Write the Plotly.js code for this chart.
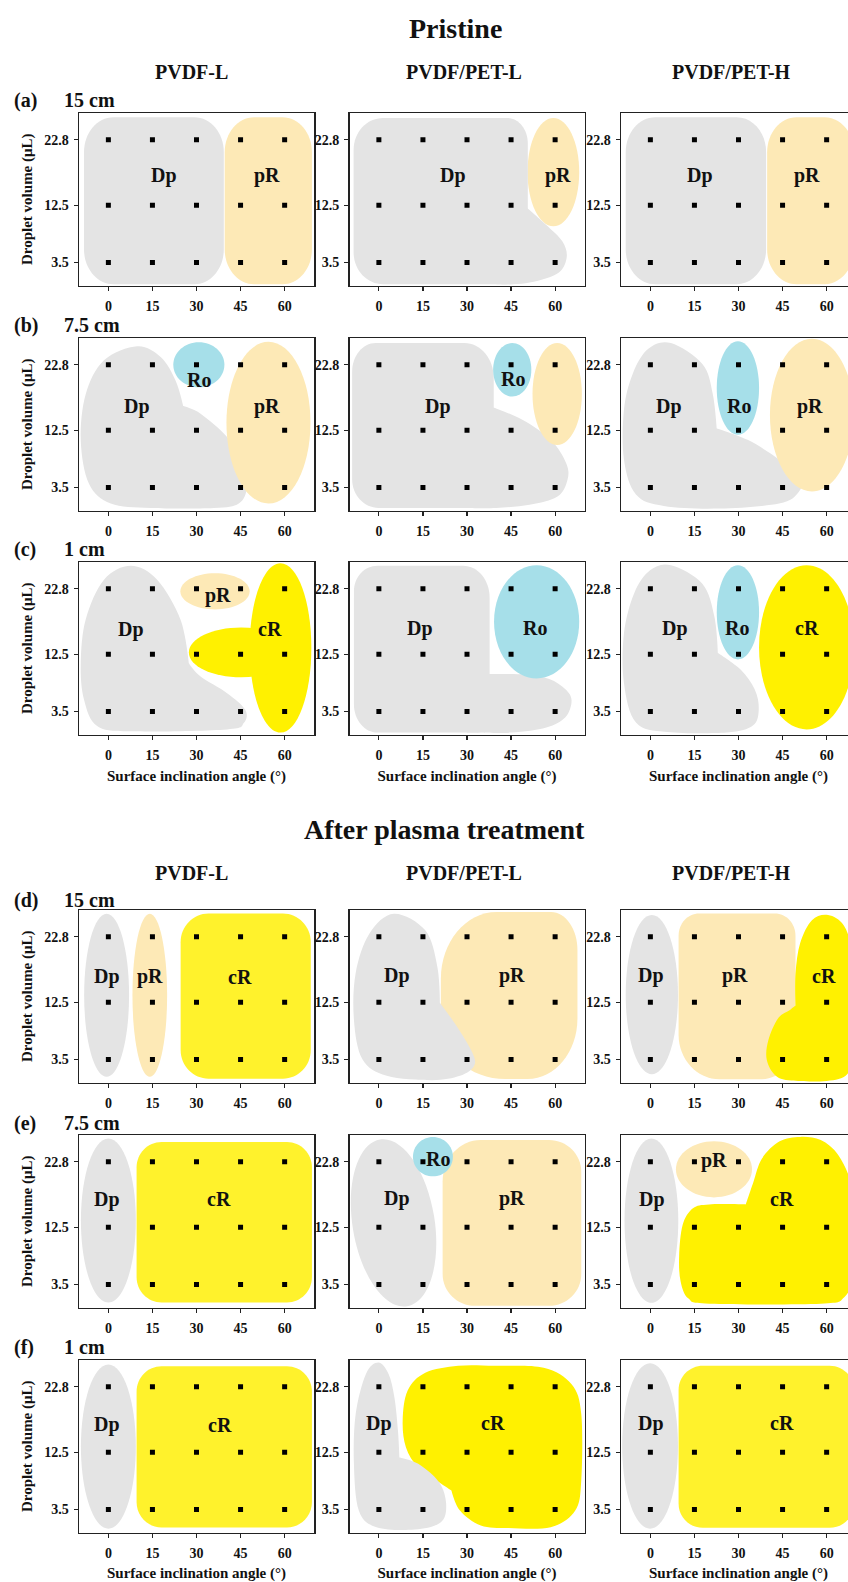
<!DOCTYPE html>
<html><head><meta charset="utf-8">
<script src="https://cdn.plot.ly/plotly-3.0.1.min.js"></script>
<style>html,body{margin:0;padding:0;overflow:hidden;background:#fff;}#chart{width:860px;height:1582px;}</style>
</head><body><div id="chart"></div>
<script>
// ---------- data ----------
const angles = [0, 15, 30, 45, 60];
const volumes = [3.5, 12.5, 22.8];
const angleLabels = ['0', '15', '30', '45', '60'];
const volumeLabels = ['3.5', '12.5', '22.8'];
const materials = ['PVDF-L', 'PVDF/PET-L', 'PVDF/PET-H'];
const heights = ['15 cm', '7.5 cm', '1 cm', '15 cm', '7.5 cm', '1 cm'];
const panelTags = ['(a)', '(b)', '(c)', '(d)', '(e)', '(f)'];
const conditions = ['Pristine', 'After plasma treatment'];
const xTitle = 'Surface inclination angle (°)';
const yTitle = 'Droplet volume (μL)';

const GRAY = '#e4e4e4', TAN = '#fde9b6', CYAN = '#a6dfe9', YEL = '#fff100', YEL2 = '#fff22c';

// regime regions per panel (angle °, volume μL); n = regime, g = outline, t = label spot
const regionsA = [
  [ {n:'Dp', c:GRAY, g:[['rr',-8.3,39.3,0.1,26.35,10,5.5]], t:[19.1,17.2]},
    {n:'pR', c:TAN,  g:[['rr',39.6,69.3,0.1,26.35,10,5.5]], t:[54,17.2]} ],
  [ {n:'pR', c:TAN,  g:[['el',59.4,17.7,8.8,8.5]], t:[60.9,17.2]},
    {n:'Dp', c:GRAY, g:[['rq',-8.6,50.7,0.1,26.2,[10,5],[6,3],[7,4],[10,5]],
                        ['bl',[[40,12,1],[50.7,12.0,1],[57,9.4],[62.5,6.8],[63.9,4.2],[60.5,1.7],[50,0.25],[40,0.1,1]]]], t:[25.1,17.2]} ],
  [ {n:'Dp', c:GRAY, g:[['rr',-8.4,39.4,0.1,26.35,10,5.5]], t:[16.8,17.2]},
    {n:'pR', c:TAN,  g:[['rr',39.75,69.3,0.1,26.35,10,5.5]], t:[53.3,17.2]} ]
];
const regionsB = [
  [ {n:'Dp', c:GRAY, g:[['bl',[[9.85,25.7],[17.8,24.0],[22.9,20.3],[25.5,16.3,1],[31.4,15.1],[40.4,11.45],[46.1,7.3],[47.2,3.6],[44.4,1.0],[35.9,0.3],[14.4,0.3],[0.8,1.0],[-6.6,4.1],[-9.4,10.9],[-7.7,18.2],[-1.5,23.5]]]], t:[9.6,16.3]},
    {n:'Ro', c:CYAN, g:[['el',30.8,22.8,8.7,3.55]], t:[30.8,20.45]},
    {n:'pR', c:TAN,  g:[['el',54.5,13.7,14.3,12.7]], t:[54,16.3]} ],
  [ {n:'Dp', c:GRAY, g:[['rq',-9.1,39.1,0.3,26.2,[9,4.5],[5,2.5],[10,5.5],[8,4.5]],
                        ['bl',[[30,16.1,1],[39.1,16.1,1],[49,14.1],[58.5,11.0],[63.8,7.3],[64.2,4.7],[60.8,2.1],[51.3,0.8],[40,0.3],[30,0.3,1]]]], t:[20.2,16.3]},
    {n:'Ro', c:CYAN, g:[['el',45.4,22.0,6.5,4.2]], t:[45.8,20.6]},
    {n:'',   c:TAN,  g:[['el',60.7,18.2,8.4,8.0]], t:null} ],
  [ {n:'Dp', c:GRAY, g:[['bl',[[7.0,26.2],[17.7,22.9],[21.2,18.3],[22.6,12.8,1],[33.1,11.0],[43.8,7.9],[50.9,4.75],[50.3,2.7],[43.8,1.0],[23.6,0.2],[4.6,0.6],[-4.9,2.4],[-9.0,7.9],[-9.0,15.7],[-6.0,21.4],[-0.7,25.3]]]], t:[6.4,16.3]},
    {n:'Ro', c:CYAN, g:[['el',29.8,19.15,7.2,7.35]], t:[30.1,16.3]},
    {n:'pR', c:TAN,  g:[['el',55,14.9,14.3,12]], t:[54.2,16.3]} ]
];
const regionsC = [
  [ {n:'Dp', c:GRAY, g:[['bl',[[7.6,26.4],[16.6,24.2],[24.6,17.9],[27.4,11.1,1],[31.4,9.0],[40.4,6.4],[46.6,3.8],[46.1,1.7],[40.4,0.7],[8.7,0.4],[-3.7,1.2],[-8.3,5.4],[-9.4,11.1],[-7.7,18.0],[-1.5,24.2]]]], t:[7.6,16.4]},
    {n:'pR', c:TAN,  g:[['el',36.3,22.4,11.8,2.85]], t:[37.4,21.8]},
    {n:'cR', c:YEL,  g:[['el',58.6,13.5,10.5,13.3],['el',45.2,12.8,17.8,3.9]], t:[55.1,16.4]} ],
  [ {n:'Dp', c:GRAY, g:[['rq',-8.5,37.7,0.2,26.4,[8,4.5],[4,2],[9,5],[8,4]],
                        ['bl',[[30,9.4,1],[37.7,9.4,1],[50,9.3],[58,8.6],[63.5,7.0],[65.6,5.2],[63.5,2.6],[57,1.0],[45,0.2],[30,0.2,1]]]], t:[14,16.6]},
    {n:'Ro', c:CYAN, g:[['el',53.7,17.6,14.5,8.9]], t:[53.1,16.6]} ],
  [ {n:'Dp', c:GRAY, g:[['bl',[[7.0,26.5],[17.7,23.6],[21.8,18.4],[23,12.7,1],[30.7,10.1],[35.5,7.0],[36.9,3.9],[34.9,1.3],[26,0.2],[5.8,0.3],[-4.9,1.8],[-9.0,8.0],[-9.0,15.8],[-5.5,22.1],[-0.1,25.7]]]], t:[8.5,16.6]},
    {n:'Ro', c:CYAN, g:[['el',29.8,19.1,7.2,7.4]], t:[29.5,16.6]},
    {n:'cR', c:YEL,  g:[['el',53.2,13.6,16.2,12.9]], t:[53.2,16.6]} ]
];
const regionsD = [
  [ {n:'Dp', c:GRAY, g:[['el',-0.6,13.6,7.65,12.8]], t:[-0.6,16.5]},
    {n:'pR', c:TAN,  g:[['el',14.1,13.6,5.9,12.8]], t:[14.2,16.5]},
    {n:'cR', c:YEL2, g:[['rr',24.6,68.9,0.5,26.45,9.5,4.5]], t:[44.9,16.5]} ],
  [ {n:'pR', c:TAN,  g:[['rq',21.1,67.6,0.45,26.7,[22,9],[17,9.5],[9,6],[19,10.5]]], t:[45.4,16.7]},
    {n:'Dp', c:GRAY, g:[['bl',[[5.1,26.4],[15.8,23.8],[19.9,18.1],[20.8,12.4,1],[26.4,8.8],[31.8,4.6],[32.4,2.5],[27.6,0.95],[18.1,0.27],[2.7,0.95],[-5.6,3.55],[-8.5,9.8],[-7.9,17.1],[-3.2,23.3]]]], t:[6.0,16.7]} ],
  [ {n:'Dp', c:GRAY, g:[['el',0.5,13.7,8.9,12.5]], t:[0.2,16.7]},
    {n:'pR', c:TAN,  g:[['rq',9.6,49.4,0.4,26.45,[14,7],[12,6],[7,3.5],[7,3.5]]], t:[28.9,16.7]},
    {n:'cR', c:YEL,  g:[['bl',[[60.5,26.2],[65.8,24.6],[68.7,20.5],[69.6,14],[69.6,5],[67,1.2],[60,0.15],[48,0.2],[42.6,1.0],[39.6,3.5],[40.2,6.6],[43.5,10.0],[47.5,11.3],[49.4,12.0,1],[49.4,17],[51,21.8],[55,25.4]]]], t:[59.2,16.7]} ]
];
const regionsE = [
  [ {n:'Dp', c:GRAY, g:[['el',0,13.57,9.35,12.88]], t:[-0.6,16.9]},
    {n:'cR', c:YEL2, g:[['rr',9.6,69.3,0.69,25.9,8.5,4]], t:[37.6,16.9]} ],
  [ {n:'Dp', c:GRAY, g:[['te',5,13.2,-4.6,13.1,13.8,1.03]], t:[6.0,17.0]},
    {n:'pR', c:TAN,  g:[['rq',21.7,68.9,0.17,26.2,[11,5],[11,5],[11,5],[13,6.5]]], t:[45.4,17.0]},
    {n:'Ro', c:CYAN, g:[['el',18.4,23.6,6.8,3.1]], t:[20.2,23.2]} ],
  [ {n:'Dp', c:GRAY, g:[['el',0.35,13.54,9.15,12.9]], t:[0.45,16.9]},
    {n:'pR', c:TAN,  g:[['el',21.65,21.6,12.95,4.4]], t:[21.7,23.0]},
    {n:'cR', c:YEL,  g:[['bl',[[9.8,8],[11,12.9],[14.5,15.5],[20,16.1],[32.5,16.1,1],[35,19.5],[38,23.3],[44,26.0],[51,26.7],[58,26.2],[64,23.8],[68.5,19],[69.5,12],[69,5],[66,1.5],[58,0.5],[20,0.5],[13,1.3],[10.3,4]]]], t:[44.8,16.9]} ]
];
const regionsF = [
  [ {n:'Dp', c:GRAY, g:[['el',0,13.4,9.35,12.9]], t:[-0.6,16.85]},
    {n:'cR', c:YEL2, g:[['rr',9.6,69.3,0.68,26.0,8.5,4]], t:[37.9,16.85]} ],
  [ {n:'cR', c:YEL,  g:[['bl',[[15.8,25.0],[27,26.1],[39.5,26.1],[56.1,25.8],[65.6,23.2],[68.9,18.5],[68.9,8.1],[66.8,3.3],[58.5,0.74],[44.2,0.6],[34.7,1.0],[27.6,3.35],[24.7,6.5,1],[20.5,7.8],[13.4,10.1],[9.2,13.3],[8.1,17.5],[9.8,22.2]]]], t:[38.9,17.05]},
    {n:'Dp', c:GRAY, g:[['bl',[[-0.2,26.6],[3.3,24.8],[5.3,21.1],[6.5,15.9],[7.0,11.7,1],[13.4,10.7],[20.5,7.8],[22.9,4.4],[21.1,1.5],[12.2,0.36],[-0.8,0.73],[-6.8,3.3],[-8.5,10.7],[-7.9,18.5],[-4.4,24.8]]]], t:[0.1,17.05]} ],
  [ {n:'Dp', c:GRAY, g:[['el',-0.1,13.5,9.5,13]], t:[0.2,17.05]},
    {n:'cR', c:YEL2, g:[['rr',9.6,69.3,0.63,26.1,8.3,3.8]], t:[44.7,17.05]} ]
];

// ---------- geometry helpers (data units) ----------
const K = 0.5523;
const f = v => +v.toFixed(4);
function ellipsePath(cx, cy, ax, ay, bx, by) {
  const p = (u, v) => f(cx + u*ax + v*bx) + ',' + f(cy + u*ay + v*by);
  return 'M' + p(1,0) + ' C' + p(1,K) + ' ' + p(K,1) + ' ' + p(0,1) +
         ' C' + p(-K,1) + ' ' + p(-1,K) + ' ' + p(-1,0) +
         ' C' + p(-1,-K) + ' ' + p(-K,-1) + ' ' + p(0,-1) +
         ' C' + p(K,-1) + ' ' + p(1,-K) + ' ' + p(1,0) + ' Z';
}
// corners: bl, br, tr, tl as [rx, ry]
function rrect4Path(x0, x1, y0, y1, bl, br, tr, tl) {
  const P = (x, y) => f(x) + ',' + f(y);
  return 'M' + P(x0+bl[0], y0) + ' L' + P(x1-br[0], y0) +
    ' C' + P(x1-br[0]+K*br[0], y0) + ' ' + P(x1, y0+br[1]-K*br[1]) + ' ' + P(x1, y0+br[1]) +
    ' L' + P(x1, y1-tr[1]) +
    ' C' + P(x1, y1-tr[1]+K*tr[1]) + ' ' + P(x1-tr[0]+K*tr[0], y1) + ' ' + P(x1-tr[0], y1) +
    ' L' + P(x0+tl[0], y1) +
    ' C' + P(x0+tl[0]-K*tl[0], y1) + ' ' + P(x0, y1-tl[1]+K*tl[1]) + ' ' + P(x0, y1-tl[1]) +
    ' L' + P(x0, y0+bl[1]) +
    ' C' + P(x0, y0+bl[1]-K*bl[1]) + ' ' + P(x0+bl[0]-K*bl[0], y0) + ' ' + P(x0+bl[0], y0) + ' Z';
}
function blobPath(pts) {
  const n = pts.length;
  let d = 'M' + f(pts[0][0]) + ',' + f(pts[0][1]);
  for (let i = 0; i < n; i++) {
    const p0 = pts[(i-1+n)%n], p1 = pts[i], p2 = pts[(i+1)%n], p3 = pts[(i+2)%n];
    const t1 = p1[2] ? 0 : 1, t2 = p2[2] ? 0 : 1;
    const c1 = [f(p1[0] + (p2[0]-p0[0])/6*t1), f(p1[1] + (p2[1]-p0[1])/6*t1)];
    const c2 = [f(p2[0] - (p3[0]-p1[0])/6*t2), f(p2[1] - (p3[1]-p1[1])/6*t2)];
    d += ' C' + c1.join(',') + ' ' + c2.join(',') + ' ' + f(p2[0]) + ',' + f(p2[1]);
  }
  return d + ' Z';
}
function geomPath(g) {
  if (g[0] === 'rr') { const r = [g[5], g[6]]; return rrect4Path(g[1], g[2], g[3], g[4], r, r, r, r); }
  if (g[0] === 'rq') return rrect4Path(g[1], g[2], g[3], g[4], g[5], g[6], g[7], g[8]);
  if (g[0] === 'el') return ellipsePath(g[1], g[2], g[3], 0, 0, g[4]);
  if (g[0] === 'te') return ellipsePath(g[1], g[2], g[3], g[4], g[5], g[6]);
  return blobPath(g[1]);
}

// ---------- layout ----------
const W = 860, H = 1582;
const FONT = 'Liberation Serif, Times New Roman, serif';
const colLeft = [79, 349.5, 621], plotW = 235;
const rowTop = [113, 338, 562, 910, 1135, 1360], plotH = 172.5;
const tagY = [100, 325, 549, 900, 1123, 1347];
const headerY = [72, 873], conditionY = [28, 829];
const headerX = [191, 464, 731], conditionX = [456, 444];

const allRows = [regionsA, regionsB, regionsC, regionsD, regionsE, regionsF];
const traces = [], shapes = [], annotations = [];
const layout = {
  width: W, height: H, margin: {l:0, r:0, t:0, b:0},
  paper_bgcolor: '#fff', plot_bgcolor: '#fff', showlegend: false,
  font: {family: FONT, color: '#111'}
};
const tickFont = {family: FONT, size: 14, weight: 'bold', color: '#111'};
const titleFont = {family: FONT, size: 15, weight: 'bold', color: '#111'};

const gx = [], gy = [];
volumes.forEach(v => angles.forEach(a => { gx.push(a); gy.push(v); }));

allRows.forEach((row, r) => row.forEach((regs, c) => {
  const i = r*3 + c + 1, s = i === 1 ? '' : String(i);
  const xr = 'x' + s, yr = 'y' + s;
  layout['xaxis' + s] = {
    domain: [colLeft[c]/W, (colLeft[c]+plotW)/W], range: [-10, 70], anchor: yr,
    tickmode: 'array', tickvals: angles, ticktext: angleLabels,
    ticks: 'outside', ticklen: 4, tickwidth: 1.2, tickcolor: '#222',
    showline: true, linewidth: 1.5, linecolor: '#222', mirror: true,
    showgrid: false, zeroline: false, tickfont: tickFont, ticklabelstandoff: 3,
    fixedrange: true,
    title: (r === 2 || r === 5) ? {text: xTitle, font: titleFont, standoff: 8} : {text: ''}
  };
  layout['yaxis' + s] = {
    domain: [1 - (rowTop[r]+plotH)/H, 1 - rowTop[r]/H], range: [-0.1, 27], anchor: xr,
    tickmode: 'array', tickvals: volumes, ticktext: volumeLabels,
    ticks: 'outside', ticklen: 4, tickwidth: 1.2, tickcolor: '#222',
    showline: true, linewidth: 1.5, linecolor: '#222', mirror: true,
    showgrid: false, zeroline: false, tickfont: tickFont, ticklabelstandoff: 2,
    fixedrange: true,
    title: c === 0 ? {text: yTitle, font: titleFont, standoff: 8} : {text: ''}
  };
  traces.push({
    type: 'scatter', mode: 'markers', x: gx, y: gy, xaxis: xr, yaxis: yr,
    marker: {symbol: 'square', size: 5, color: '#000'}, hoverinfo: 'skip', showlegend: false
  });
  regs.forEach(reg => {
    reg.g.forEach(g => shapes.push({
      type: 'path', path: geomPath(g), xref: xr, yref: yr,
      fillcolor: reg.c, line: {width: 0}, layer: 'below'
    }));
    if (reg.n) annotations.push({
      text: reg.n, x: reg.t[0], y: reg.t[1], xref: xr, yref: yr, showarrow: false,
      xanchor: 'center', yanchor: 'middle',
      font: {family: FONT, size: 20, weight: 'bold', color: '#111'}
    });
  });
}));

const px = x => x / W, py = y => 1 - y / H;
const paperText = (text, x, y, size, xanchor) => ({
  text, x: px(x), y: py(y), xref: 'paper', yref: 'paper', showarrow: false,
  xanchor: xanchor || 'center', yanchor: 'middle',
  font: {family: FONT, size, weight: 'bold', color: '#111'}
});
conditions.forEach((t, k) => annotations.push(paperText(t, conditionX[k], conditionY[k], 28)));
headerY.forEach(hy => materials.forEach((m, k) => annotations.push(paperText(m, headerX[k], hy, 20))));
panelTags.forEach((t, r) => {
  annotations.push(paperText(t, 12, tagY[r], 20, 'left'));
  annotations.push(paperText(heights[r], 62, tagY[r], 20, 'left'));
});

layout.shapes = shapes;
layout.annotations = annotations;
Plotly.newPlot('chart', traces, layout, {staticPlot: true, displayModeBar: false});
</script></body></html>
